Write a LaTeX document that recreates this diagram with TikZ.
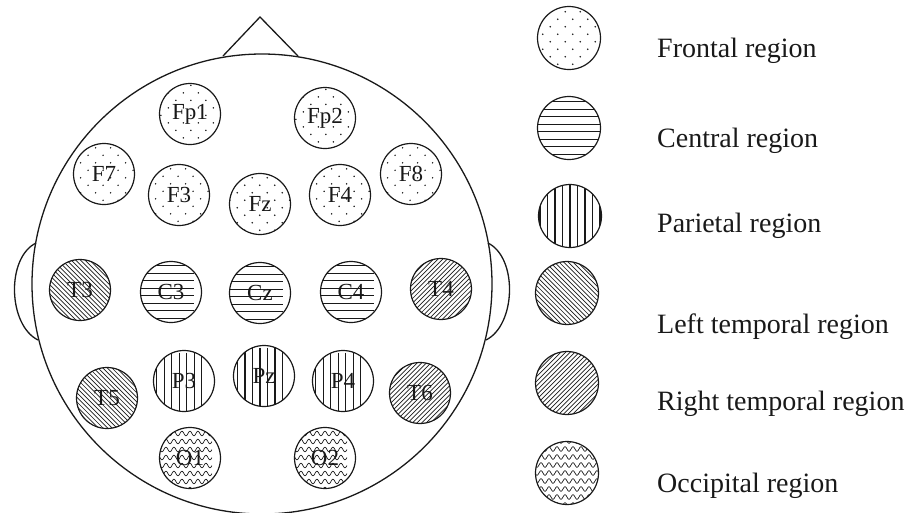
\documentclass[tikz,border=0pt]{standalone}
\usepackage{fontspec}
\setmainfont{Liberation Serif}
\begin{document}
\begin{tikzpicture}[x=1pt,y=-1pt,
  outline/.style={line width=1.3pt,black!90},
  elec/.style={circle,draw=black!90,line width=1.2pt,minimum size=61pt,inner sep=0pt,
    font=\fontsize{23}{24}\selectfont,text=black!90},
  legc/.style={elec,minimum size=63pt},
  legt/.style={anchor=base west,inner sep=0pt,font=\fontsize{28}{30}\selectfont,text=black!90},
  frontal/.style={path picture={\begin{scope}[shift={(path picture bounding box.center)}]
     \foreach \r in {0,...,9}{\foreach \c in {0,...,5}{
       \fill[black!90] ({-41.25+\c*15+mod(\r,2)*7.5},{-33.75+\r*7.5}) circle (0.85);}}
     \end{scope}}},
  central/.style={path picture={\begin{scope}[shift={(path picture bounding box.center)}]
     \foreach \i in {-5,...,4}{\draw[line width=1.2pt,black!90] (-36,{(\i+0.5)*7.5}) -- (36,{(\i+0.5)*7.5});}
     \end{scope}}},
  parietal/.style={path picture={\begin{scope}[shift={(path picture bounding box.center)}]
     \foreach \i in {-4,...,4}{\draw[line width=1.1pt,black!90] ({\i*7.5},-36) -- ({\i*7.5},36);}
     \end{scope}}},
  ltemp/.style={path picture={\begin{scope}[shift={(path picture bounding box.center)}]
     \foreach \k in {-18,...,18}{\draw[line width=0.7pt,black!90] ({\k*4.6-40},-40) -- ({\k*4.6+40},40);}
     \end{scope}}},
  rtemp/.style={path picture={\begin{scope}[shift={(path picture bounding box.center)}]
     \foreach \k in {-18,...,18}{\draw[line width=0.7pt,black!90] ({\k*4.6+40},-40) -- ({\k*4.6-40},40);}
     \end{scope}}},
  occip/.style={path picture={\begin{scope}[shift={(path picture bounding box.center)}]
     \foreach \r in {-4,...,4}{\draw[line width=0.7pt,black!90]
        plot[domain=-36:36,samples=97] (\x,{\r*8+2.3*sin(\x*45)});}
     \end{scope}}}
]
\useasboundingbox (0,0) rectangle (911,512);
\clip (0,0) rectangle (911,512);

% head, nose, ears
\draw[outline] (262,284) circle (230);
\draw[outline] (223,56) -- (260,17) -- (298,56);
\draw[outline] (36,243) .. controls (6,258) and (8,325) .. (38,340);
\draw[outline] (488,243) .. controls (518,258) and (516,325) .. (486,340);

% electrodes
\node[elec,frontal] (Fp1) at (190,114) {Fp1};
\node[elec,frontal] (Fp2) at (325,118) {Fp2};
\node[elec,frontal] (F7) at (104,174) {F7};
\node[elec,frontal] (F3) at (179,195) {F3};
\node[elec,frontal] (Fz) at (260,204) {Fz};
\node[elec,frontal] (F4) at (340,195) {F4};
\node[elec,frontal] (F8) at (411,174) {F8};
\node[elec,ltemp] (T3) at (80,290) {T3};
\node[elec,central] (C3) at (171,292) {C3};
\node[elec,central] (Cz) at (260,293) {Cz};
\node[elec,central] (C4) at (351,292) {C4};
\node[elec,rtemp] (T4) at (441,289) {T4};
\node[elec,ltemp] (T5) at (107,398) {T5};
\node[elec,parietal] (P3) at (184,381) {P3};
\node[elec,parietal] (Pz) at (264,376) {Pz};
\node[elec,parietal] (P4) at (343,381) {P4};
\node[elec,rtemp] (T6) at (420,393) {T6};
\node[elec,occip] (O1) at (190,458) {O1};
\node[elec,occip] (O2) at (325,458) {O2};

% legend
\node[legc,frontal] (L1) at (569,38) {};
\node[legc,central] (L2) at (569,128) {};
\node[legc,parietal] (L3) at (570,216) {};
\node[legc,ltemp] (L4) at (567,293) {};
\node[legc,rtemp] (L5) at (567,383) {};
\node[legc,occip] (L6) at (567,473) {};
\node[legt] (T1) at (657,57) {Frontal region};
\node[legt] (T2) at (657,147) {Central region};
\node[legt] (T3l) at (657,232) {Parietal region};
\node[legt] (T4l) at (657,333) {Left temporal region};
\node[legt] (T5l) at (657,410) {Right temporal region};
\node[legt] (T6l) at (657,492) {Occipital region};
\end{tikzpicture}
\end{document}
